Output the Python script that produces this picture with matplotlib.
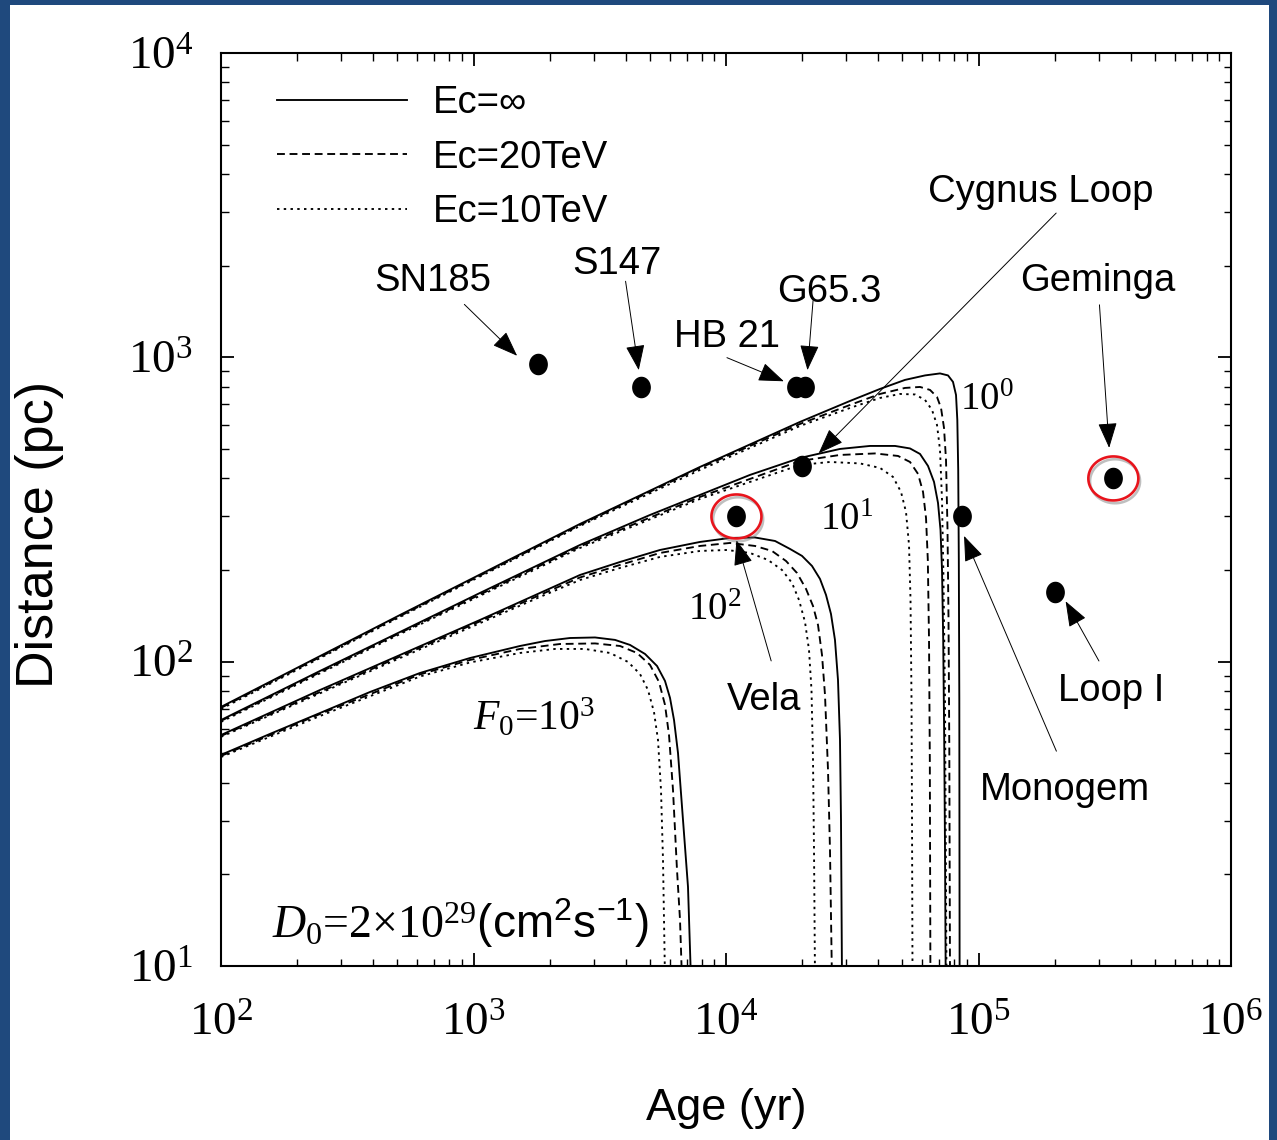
import numpy as np
import matplotlib
matplotlib.use('Agg')
import matplotlib.pyplot as plt
import matplotlib.patheffects as pe
import matplotlib.transforms as mtransforms
from matplotlib.path import Path
from matplotlib.markers import MarkerStyle
from matplotlib.ticker import LogLocator, LogFormatterMathtext, NullFormatter

plt.rcParams.update({
    "font.family": "Liberation Serif",
    "mathtext.fontset": "custom",
    "mathtext.rm": "Liberation Serif",
    "mathtext.it": "Liberation Serif:italic",
    "mathtext.sf": "Liberation Sans",
})
SANS = "Liberation Sans"

# ---- curves: age (yr) vs distance (pc) ----
# F0 = 10^0
age_f1_inf = [100, 512, 2641, 7889, 19641, 30983, 40734, 51157, 61404, 70401, 75731, 79253, 81462, 82434, 83112, 83570, 83951, 84181]
dist_f1_inf = [71.0, 142.4, 283.5, 436.4, 613.5, 718.9, 787.3, 843.0, 872.1, 885.4, 872.1, 830.3, 752.3, 622.8, 426.6, 215.9, 74.8, 9]
age_f1_20 = [100, 512, 2641, 7889, 19641, 30983, 40734, 51157, 58666, 64269, 68494, 71046, 73016, 74360, 75386, 76077, 76634, 77125]
dist_f1_20 = [70.5, 141.3, 281.3, 433.1, 604.1, 697.5, 758.0, 793.3, 799.3, 781.4, 741.0, 681.9, 586.2, 460.1, 270.9, 137.1, 51.3, 9]
age_f1_10 = [100, 512, 2641, 7889, 19641, 30983, 40734, 48880, 56050, 61404, 65446, 68494, 70401, 71697, 72685, 73685, 74700]
dist_f1_10 = [69.9, 140.3, 279.2, 426.6, 595.0, 681.9, 735.4, 758.0, 755.1, 724.5, 671.7, 599.5, 496.2, 340.0, 185.5, 74.8, 9]

# F0 = 10^1
age_f10_inf = [100, 246.6, 512, 1061, 2641, 5000, 7889, 12445, 19641, 28277, 37180, 46700, 53553, 58666, 63096, 66655, 69122, 70723, 71697, 72485, 73148, 73685, 74157]
dist_f10_inf = [64.3, 93.2, 125.2, 168.2, 241.8, 303.4, 353.1, 410.8, 467.0, 500.0, 511.5, 511.5, 501.9, 481.4, 439.7, 389.6, 332.3, 270.9, 200.1, 117.9, 55.3, 24.1, 9]
age_f10_20 = [100, 512, 2641, 7889, 19641, 28277, 38915, 47998, 53553, 57606, 60297, 61966, 62992, 63686, 64153, 64505]
dist_f10_20 = [63.9, 124.3, 239.1, 347.8, 456.6, 477.8, 483.3, 474.2, 453.1, 414.0, 361.2, 296.7, 215.9, 117.9, 47.5, 9]
age_f10_10 = [100, 512, 2641, 7889, 19641, 25812, 33942, 40734, 45856, 49328, 51627, 53066, 53797, 54290, 54539, 54789]
dist_f10_10 = [63.4, 123.3, 236.4, 342.6, 443.0, 453.1, 448.1, 433.1, 404.6, 361.2, 310.4, 241.8, 159.5, 74.8, 30.2, 9]

# F0 = 10^2
age_f100_inf = [100, 246.6, 512, 1061, 1834, 2641, 3804, 5477, 7889, 10372, 13026, 15640, 17930, 19999, 21907, 23566, 24891, 26046, 27013, 27767, 28277, 28537, 28800]
dist_f100_inf = [57.4, 80.7, 105.2, 137.1, 168.2, 192.7, 212.6, 232.8, 247.4, 255.0, 255.9, 249.2, 234.6, 222.6, 206.3, 187.0, 165.7, 143.5, 117.9, 87.1, 55.3, 30.2, 9]
age_f100_20 = [100, 512, 1834, 2641, 3804, 5477, 7889, 10372, 13026, 15210, 17285, 19106, 20744, 22110, 23142, 24001, 24664, 25349, 25812, 26284]
dist_f100_20 = [57.0, 104.0, 165.7, 189.1, 207.9, 227.6, 240.0, 245.5, 240.0, 231.1, 214.2, 195.6, 173.4, 152.4, 132.0, 105.2, 77.8, 44.1, 24.1, 9]
age_f100_10 = [100, 512, 1834, 2641, 3804, 5477, 7889, 10092, 12445, 14664, 16666, 18257, 19459, 20556, 21316, 21808, 22110, 22313, 22517]
dist_f100_10 = [56.6, 102.8, 163.2, 185.5, 203.2, 220.9, 231.1, 232.8, 227.6, 215.9, 200.1, 181.4, 159.5, 135.0, 109.3, 80.7, 47.5, 24.1, 9]

# F0 = 10^3
age_f1000_inf = [100, 156.4, 246.6, 389.1, 614, 968.6, 1528, 1920, 2411, 3029, 3635, 4167, 4778, 5331, 5734, 6002, 6225, 6455, 6756, 7071, 7267]
dist_f1000_inf = [49.4, 57.9, 67.8, 79.5, 91.8, 102.8, 112.6, 116.9, 119.6, 120.1, 117.9, 113.5, 106.0, 96.8, 86.4, 76.0, 64.3, 50.1, 30.2, 18.2, 9]
age_f1000_20 = [100, 246.6, 614, 968.6, 1528, 2200, 3029, 3804, 4442, 5000, 5427, 5734, 5947, 6167, 6396, 6574, 6695]
dist_f1000_20 = [49.0, 67.3, 90.8, 101.3, 110.1, 114.3, 114.8, 112.6, 106.8, 97.6, 85.8, 72.1, 57.4, 37.9, 20.7, 14.2, 9]
age_f1000_10 = [100, 246.6, 614, 968.6, 1528, 2102, 2764, 3472, 4092, 4564, 4910, 5186, 5379, 5528, 5630, 5734]
dist_f1000_10 = [48.6, 66.3, 89.4, 99.4, 106.8, 110.1, 110.1, 106.8, 99.8, 91.1, 80.7, 68.3, 55.3, 37.9, 22.3, 9]

# ---- sources ----
src_names = ["SN185", "S147", "HB 21", "G65.3", "Cygnus Loop", "Vela", "Monogem", "Geminga", "Loop I"]
src_age = [1800, 4600, 19000, 20500, 20000, 11000, 86000, 342000, 200000]
src_dist = [950, 800, 800, 800, 440, 300, 300, 400, 170]
circled = ["Vela", "Geminga"]

legend_labels = ["Ec=\u221e", "Ec=20TeV", "Ec=10TeV"]

# label offset, arrow tail offset, arrow tip offset (points, relative to the dot)
arrow_layout = {
    "SN185": (-76, 53, -53, 43, -15, 6),
    "S147": (-17, 81, -11, 76, -1.5, 12),
    "HB 21": (-50, 29, -50, 21, -9, 4),
    "G65.3": (18, 61, 6, 62, 2, 12),
    "Cygnus Loop": (172, 190, 183, 182, 12, 9),
    "Vela": (20, -139, 25, -104, 0, -17),
    "Monogem": (74, -204, 68, -169, 1.5, -14),
    "Geminga": (-11, 135, -10, 125, -3, 22),
    "Loop I": (41, -79, 32, -50, 8, -7),
}

fig = plt.figure(figsize=(12.77, 11.40), dpi=100)
fig.patch.set_facecolor("#1f497d")
fig.add_artist(plt.Rectangle((10 / 1277, 0), 1259 / 1277, 1135 / 1140,
                             transform=fig.transFigure, facecolor="white",
                             edgecolor="none", zorder=-1))
ax = fig.add_axes([221 / 1277, 174 / 1140, 1010 / 1277, 913 / 1140])

styles = [dict(ls="-"), dict(ls=(0, (4.2, 2.5))), dict(ls=(0, (1.3, 2.3)))]
groups = [
    [(age_f1_inf, dist_f1_inf), (age_f1_20, dist_f1_20), (age_f1_10, dist_f1_10)],
    [(age_f10_inf, dist_f10_inf), (age_f10_20, dist_f10_20), (age_f10_10, dist_f10_10)],
    [(age_f100_inf, dist_f100_inf), (age_f100_20, dist_f100_20), (age_f100_10, dist_f100_10)],
    [(age_f1000_inf, dist_f1000_inf), (age_f1000_20, dist_f1000_20), (age_f1000_10, dist_f1000_10)],
]
handles = []
for gi, grp in enumerate(groups):
    for (a, d), st in zip(grp, styles):
        ln, = ax.plot(a, d, color="black", lw=1.35, solid_joinstyle="round", **st)
        if gi == 0:
            handles.append(ln)

ax.set_xscale("log")
ax.set_yscale("log")
ax.set_xlim(1e2, 1e6)
ax.set_ylim(1e1, 1e4)

# source dots
t = np.linspace(0, 2 * np.pi, 80)
dot_marker = MarkerStyle(Path(np.column_stack([0.86 * np.cos(t), np.sin(t)]), closed=True))
ring_marker = MarkerStyle(Path(np.column_stack([np.cos(t), 0.88 * np.sin(t)]), closed=True))
ax.plot(src_age, src_dist, ls="none", marker=dot_marker, ms=14.5, color="black", zorder=5)
for name, a, d in zip(src_names, src_age, src_dist):
    if name in circled:
        ax.plot([a], [d], ls="none", marker=ring_marker, ms=36, mfc="none",
                mec="#e8141c", mew=1.9, zorder=6,
                path_effects=[pe.SimpleLineShadow(offset=(1.2, -2.0), shadow_color="0.45", alpha=0.45),
                              pe.Normal()])

for name, a, d in zip(src_names, src_age, src_dist):
    lx, ly, tx, ty, hx, hy = arrow_layout[name]
    ax.annotate(name, xy=(a, d), xytext=(lx, ly), textcoords="offset points",
                ha="center", va="baseline", family=SANS, fontsize=27.5)
    tip = mtransforms.offset_copy(ax.transData, fig=fig, x=hx, y=hy, units="points")
    ax.annotate("", xy=(a, d), xycoords=tip, xytext=(tx - hx, ty - hy),
                textcoords="offset points",
                arrowprops=dict(arrowstyle="-|>,head_length=0.8,head_width=0.3",
                                color="black", lw=0.7, shrinkA=0, shrinkB=0,
                                mutation_scale=20))

# curve labels
ax.text(84470, 671.6, r"$10^0$", fontsize=28, ha="left", va="baseline")
ax.text(23566, 270.9, r"$10^1$", fontsize=28, ha="left", va="baseline")
ax.text(7071, 137.1, r"$10^2$", fontsize=28, ha="left", va="baseline")
ax.text(996, 59.6, r"$F_0$=10$^3$", fontsize=30, ha="left", va="baseline")
ax.text(0.0505, 0.0307, r"$D_0$=2×10$^{29}\mathsf{(cm^2s^{-1})}$", transform=ax.transAxes,
        fontsize=33, ha="left", va="baseline")

leg = ax.legend(handles, legend_labels, loc="upper left", bbox_to_anchor=(0.0554, 0.9645),
                frameon=False, prop={"family": SANS, "size": 27.5}, handlelength=3.4,
                handletextpad=0.68, labelspacing=0.48, borderpad=0, borderaxespad=0)

# axes cosmetics
for axis in (ax.xaxis, ax.yaxis):
    axis.set_major_locator(LogLocator(base=10, numticks=10))
    axis.set_minor_locator(LogLocator(base=10, subs=np.arange(2, 10), numticks=100))
    axis.set_major_formatter(LogFormatterMathtext())
    axis.set_minor_formatter(NullFormatter())
ax.tick_params(which="both", direction="in", top=True, right=True, labelsize=34)
ax.tick_params(which="major", length=9.4, width=1.3)
ax.tick_params(which="minor", length=5.4, width=1.0)
ax.tick_params(axis="x", pad=27)
ax.tick_params(axis="y", pad=20)
for sp in ax.spines.values():
    sp.set_linewidth(1.5)

ax.set_xlabel("Age (yr)", family=SANS, fontsize=32.5, va="baseline")
ax.xaxis.set_label_coords(0.5, -0.1687)
ax.set_ylabel("Distance (pc)", family=SANS, fontsize=37.5, va="baseline")
ax.yaxis.set_label_coords(-0.1663, 0.473)

fig.savefig("out.png", dpi=100, facecolor=fig.get_facecolor())
